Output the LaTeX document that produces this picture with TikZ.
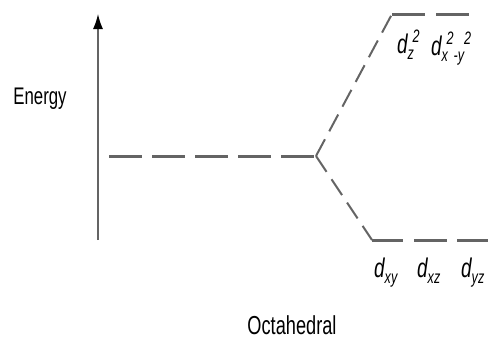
\documentclass[tikz,border=0pt]{standalone}
\usepackage{fontspec}
\setmainfont{Liberation Sans}
\usepackage{graphicx}
\usetikzlibrary{arrows.meta}
\definecolor{levelgray}{RGB}{100,100,100}
\newcommand{\thin}[1]{\scalebox{0.7}[1]{#1}}
\newcommand{\lo}[1]{\raisebox{-6pt}{\fontsize{18}{18}\selectfont #1}}
\newcommand{\hi}[1]{\raisebox{11pt}{\fontsize{18}{18}\selectfont #1}}
\tikzset{
  level/.style={levelgray, line width=3pt, dash pattern=on 33pt off 10pt},
  split/.style={levelgray, line width=2pt, dash pattern=on 19pt off 9pt},
  orb/.style={font=\fontsize{27}{27}\selectfont\itshape, inner sep=0pt, anchor=base west},
}
\begin{document}
\begin{tikzpicture}[x=1pt, y=-1pt]
  \useasboundingbox (0,0) rectangle (488,341);
  \coordinate (axb) at (98,240); \coordinate (axt) at (98,14);
  \coordinate (L) at (109,156); \coordinate (S) at (316,156);
  \coordinate (U1) at (392,14); \coordinate (U2) at (425,14);
  \coordinate (U3) at (436,14); \coordinate (U4) at (469,14);
  \coordinate (D1) at (372,240); \coordinate (D2) at (403,240);
  \coordinate (D3) at (414,240); \coordinate (D4) at (447,240);
  \coordinate (D5) at (457,240); \coordinate (D6) at (488,240);
  \draw[levelgray, line width=1.4pt, -{Latex[length=15pt,width=10pt,black]}] (axb)--(axt);
  \draw[level] (L)--(S);
  \draw[split] (S)--(U1);
  \draw[split] (S)--(D1);
  \draw[level] (U1)--(U2) (U3)--(U4);
  \draw[level] (D1)--(D2) (D3)--(D4) (D5)--(D6);
  \node (energy) at (40,99) {\fontsize{24}{24}\selectfont\thin{Energy}};
  \node (octa) at (292,325) {\fontsize{26}{26}\selectfont\thin{Octahedral}};
  \node[orb] (dz2) at (397,53) {\thin{d\lo{z}\kern-2pt\hi{2}}};
  \node[orb] (dx2y2) at (431,55) {\thin{d\lo{x}\kern-2pt\hi{2}\lo{-y}\hi{2}}};
  \node[orb] (dxy) at (374,277) {\thin{d\lo{xy}}};
  \node[orb] (dxz) at (417,277) {\thin{d\lo{xz}}};
  \node[orb] (dyz) at (461,277) {\thin{d\lo{yz}}};
\end{tikzpicture}
\end{document}
